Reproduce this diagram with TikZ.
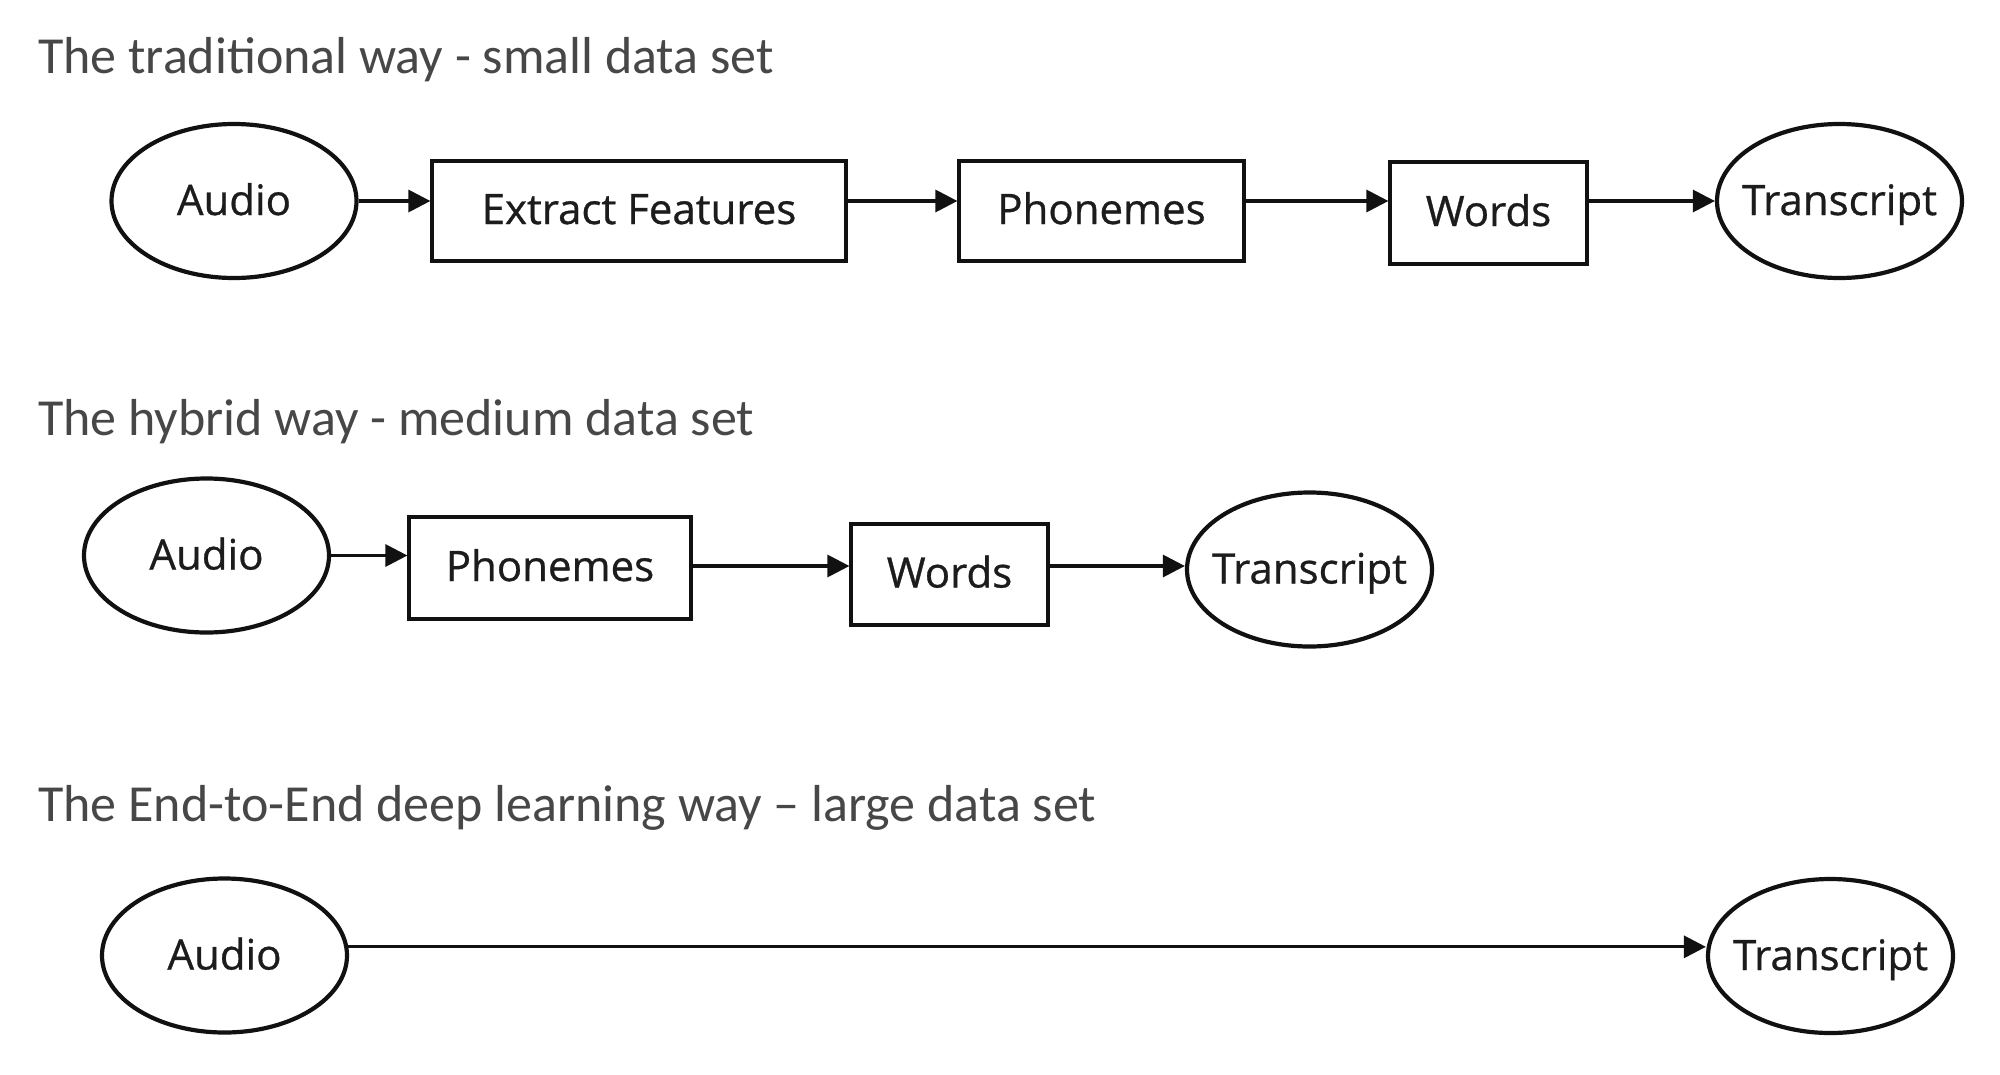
\documentclass[tikz,border=0pt]{standalone}
\usepackage{fontspec}
\setmainfont{Open Sans}
\newfontfamily\nodefont{Open Sans}[FakeBold=0.7]
\newfontfamily\titlefont{Carlito}
\usetikzlibrary{arrows.meta,shapes.geometric}
\definecolor{ttlgray}{HTML}{474747}
\definecolor{lnc}{HTML}{111111}
\definecolor{txc}{HTML}{1C1C1C}
\begin{document}
\begin{tikzpicture}[x=1pt,y=-1pt,
  ell/.style={ellipse, draw=lnc, line width=4.2pt, minimum width=245pt, minimum height=154pt, inner xsep=-40pt, inner ysep=0pt, text height=30pt, text depth=2pt, text=txc, font=\nodefont\fontsize{42}{46}\selectfont},
  box/.style={rectangle, draw=lnc, line width=3.2pt, inner sep=0pt, text height=30pt, text depth=4pt, text=txc, font=\nodefont\fontsize{42}{46}\selectfont},
  arr/.style={draw=lnc, line width=3.2pt, -{Triangle[length=22pt,width=22pt]}},
  ttl/.style={anchor=base west, inner sep=0pt, text=ttlgray, font=\titlefont\fontsize{52}{56}\selectfont}]
\useasboundingbox (0,0) rectangle (2000,1074);
\fill[white] (0,0) rectangle (2000,1074);
% Row 1
\node[ttl] (t1) at (38,73) {The traditional way - small data set};
\node[ell] (a1) at (234,201) {Audio};
\node[box, minimum width=414pt, minimum height=100pt] (ef1) at (639,211) {Extract Features};
\node[box, minimum width=285pt, minimum height=100pt] (p1) at (1101.5,211) {Phonemes};
\node[box, minimum width=197pt, minimum height=102pt] (w1) at (1488.5,213) {Words};
\node[ell] (tr1) at (1839.5,201) {Transcript};
\draw[arr] (a1.east) -- (a1.east -| ef1.west);
\draw[arr] (ef1.east |- a1.east) -- (a1.east -| p1.west);
\draw[arr] (p1.east |- a1.east) -- (a1.east -| w1.west);
\draw[arr] (w1.east |- tr1.west) -- (tr1.west);
% Row 2
\node[ttl] (t2) at (38,435) {The hybrid way - medium data set};
\node[ell] (a2) at (206.5,555.5) {Audio};
\node[box, minimum width=282pt, minimum height=102pt] (p2) at (550,568) {Phonemes};
\node[box, minimum width=197pt, minimum height=101pt] (w2) at (949.5,574.5) {Words};
\node[ell] (tr2) at (1309.5,569.5) {Transcript};
\draw[arr] (a2.east) -- (a2.east -| p2.west);
\coordinate (r2) at (0,566);
\draw[arr] (p2.east |- r2) -- (r2 -| w2.west);
\draw[arr] (w2.east |- r2) -- (r2 -| tr2.west);
% Row 3
\node[ttl] (t3) at (38,821) {The End-to-End deep learning way – large data set};
\node[ell] (a3) at (224.5,955.5) {Audio};
\node[ell] (tr3) at (1830.5,956) {Transcript};
\draw[arr] (a3.4) -- (a3.4 -| tr3.west);
\end{tikzpicture}
\end{document}
